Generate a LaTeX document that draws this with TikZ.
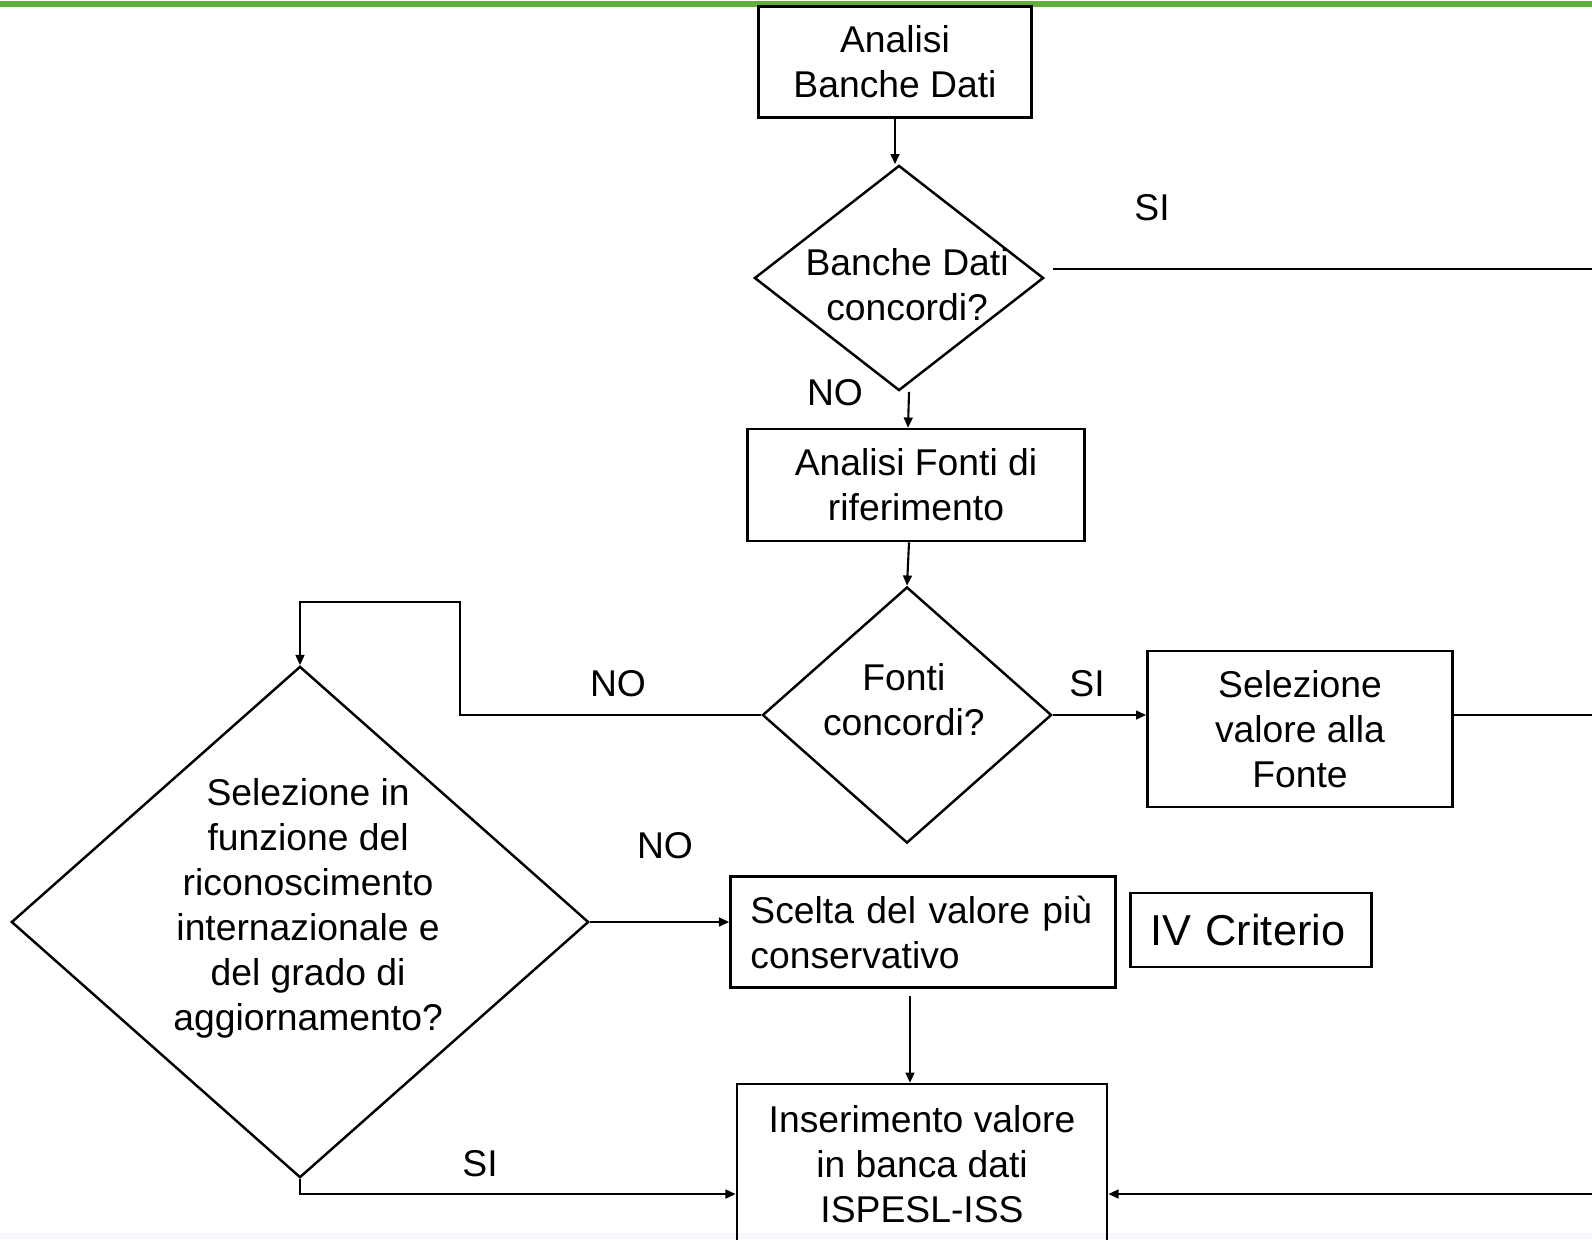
\documentclass[tikz,border=0pt]{standalone}
\usepackage{fontspec}
\setmainfont{Liberation Sans}
\usetikzlibrary{shapes.geometric, arrows.meta, calc}

\definecolor{topgreen}{RGB}{98,174,60}
\definecolor{bottomgrey}{RGB}{246,247,251}

\begin{document}
\begin{tikzpicture}[x=0.01cm, y=-0.01cm,
		every node/.style={font=\fontsize{10.6}{12.8}\selectfont},
		block/.style={draw, line width=0.7pt, align=center, inner sep=0pt},
		decision/.style={draw, diamond, line width=0.7pt, inner sep=0pt},
		flow/.style={line width=0.6pt, -{Triangle[length=2.9pt, width=2.5pt]}},
		link/.style={line width=0.6pt}]
		% Page frame
		\clip (0,0) rectangle (1592,1239);
		\fill[white] (0,0) rectangle (1592,1239);
		\fill[bottomgrey] (0,1233) rectangle (1592,1239);
		\draw[topgreen, line width=1.6pt] (0,4) -- (1592,4);

		% Define the blocks
		\node[block, minimum width=2.73cm, minimum height=1.11cm] (banche) at (895,62) {Analisi\\Banche Dati};
		\node[block, minimum width=3.37cm, minimum height=1.12cm] (fonti) at (916,485) {Analisi Fonti di\\riferimento};
		\node[block, minimum width=3.05cm, minimum height=1.56cm] (selfonte) at (1300,729) {Selezione\\valore alla\\Fonte};
		\node[block, align=left, text width=3.45cm, inner xsep=0.2cm, minimum height=1.11cm] (scelta) at (923,932) {Scelta del valore più\\conservativo};
		\node[block, align=left, text width=2.01cm, inner xsep=0.2cm, minimum height=0.74cm, font=\fontsize{12.3}{14}\selectfont] (criterio) at (1251,930) {IV Criterio};
		\node[block, minimum width=3.70cm, minimum height=1.60cm] (inserim) at (922,1164) {Inserimento valore\\in banca dati\\ISPESL-ISS};

		% Decisions
		\node[decision, minimum width=2.89cm, minimum height=2.25cm,
			label={[xshift=2.3pt, yshift=-2pt, align=center]center:Banche Dati\\concordi?}] (bdq) at (899,278) {};
		\node[decision, minimum width=2.89cm, minimum height=2.56cm,
			label={[xshift=-0.9pt, yshift=4.3pt, align=center]center:Fonti\\concordi?}] (fq) at (907,715) {};
		\node[decision, minimum width=5.77cm, minimum height=5.11cm,
			label={[xshift=2.3pt, yshift=4pt, align=center]center:Selezione in\\funzione del\\riconoscimento\\internazionale e\\del grado di\\aggiornamento?}] (selint) at (300,922) {};

		% Branch labels
		\node (si1) at (1152,208) {SI};
		\node (no1) at (835,393) {NO};
		\node (no2) at (618,684) {NO};
		\node (si2) at (1087,684) {SI};
		\node (no3) at (665,846) {NO};
		\node (si3) at (480,1164) {SI};

		% Free ends and bends
		\coordinate (edge1) at (1600,269);
		\coordinate (edge2) at (1600,715);
		\coordinate (edge3) at (1600,1194);
		\coordinate (loop) at (460,602);

		% Connectors
		\draw[flow] (banche.south) -- (banche.south |- bdq.north);
		\draw[link] ($(bdq.east)+(8,-9)$) -- (edge1);
		\draw[flow] ($(bdq.south)+(10,0)$) -- ($(fonti.north)+(-8,0)$);
		\draw[flow] ($(fonti.south)+(-7,0)$) -- (fq.north);
		\draw[flow] (fq.east) -- (fq.east -| selfonte.west);
		\draw[link] (fq.east -| selfonte.east) -- (edge2);
		\draw[flow] (fq.west) -| (loop) -| (selint.north);
		\draw[flow] (selint.east) -- (selint.east -| scelta.west);
		\draw[flow] ($(scelta.south)+(-13,7)$) -- ($(inserim.north)+(-12,0)$);
		\draw[flow] (selint.south) |- (inserim.west |- edge3);
		\draw[flow] (edge3) -- (inserim.east |- edge3);
\end{tikzpicture}
\end{document}
